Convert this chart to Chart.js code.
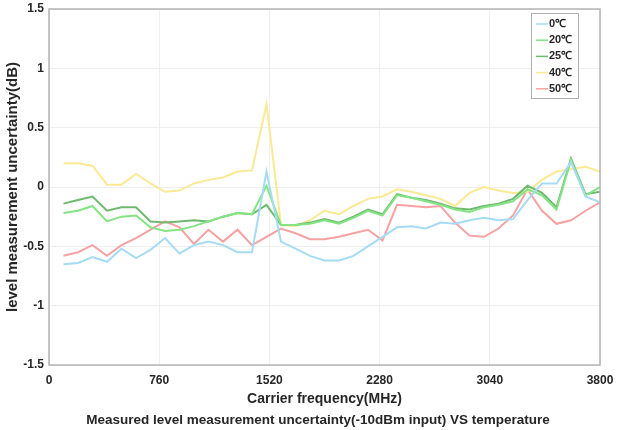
<!DOCTYPE html>
<html>
<head>
<meta charset="UTF-8">
<title>Level measurement uncertainty VS temperature</title>
<script src="https://cdn.jsdelivr.net/npm/chart.js@4.4.0/dist/chart.umd.min.js"></script>
<style>
  body { margin: 0; background: #fff; }
</style>
</head>
<body>
<canvas id="chart1" width="617" height="430"></canvas>
<script>
// carrier frequency points (MHz)
var freqs = [100, 200, 300, 400, 500, 600, 700, 800, 900, 1000,
             1100, 1200, 1300, 1400, 1500, 1600, 1700, 1800, 1900, 2000,
             2100, 2200, 2300, 2400, 2500, 2600, 2700, 2800, 2900, 3000,
             3100, 3200, 3300, 3400, 3500, 3600, 3700, 3800];

// uncertainty (dB) per temperature
var t0  = [-0.65, -0.64, -0.59, -0.63, -0.52, -0.60, -0.53, -0.43, -0.56, -0.49,
           -0.46, -0.49, -0.55, -0.55, 0.13, -0.46, -0.52, -0.58, -0.62, -0.62,
           -0.58, -0.50, -0.42, -0.34, -0.33, -0.35, -0.30, -0.31, -0.28, -0.26,
           -0.28, -0.27, -0.11, 0.03, 0.03, 0.21, -0.08, -0.13];
var t20 = [-0.22, -0.20, -0.16, -0.29, -0.25, -0.24, -0.34, -0.37, -0.36, -0.33,
           -0.29, -0.25, -0.22, -0.23, 0.01, -0.32, -0.32, -0.31, -0.28, -0.31,
           -0.26, -0.20, -0.24, -0.07, -0.09, -0.12, -0.15, -0.19, -0.21, -0.17,
           -0.15, -0.12, -0.02, -0.07, -0.19, 0.23, -0.07, 0.00];
var t25 = [-0.14, -0.11, -0.08, -0.20, -0.17, -0.17, -0.29, -0.30, -0.29, -0.28,
           -0.29, -0.25, -0.22, -0.23, -0.15, -0.32, -0.32, -0.30, -0.27, -0.30,
           -0.25, -0.19, -0.23, -0.06, -0.09, -0.11, -0.14, -0.18, -0.19, -0.16,
           -0.14, -0.10, 0.01, -0.05, -0.17, 0.24, -0.06, -0.04];
var t40 = [0.20, 0.20, 0.18, 0.02, 0.02, 0.11, 0.03, -0.04, -0.03, 0.03,
           0.06, 0.08, 0.13, 0.14, 0.70, -0.32, -0.33, -0.28, -0.20, -0.23,
           -0.16, -0.10, -0.08, -0.02, -0.04, -0.07, -0.10, -0.16, -0.05, 0.00,
           -0.03, -0.05, -0.04, 0.06, 0.13, 0.15, 0.17, 0.13];
var t50 = [-0.58, -0.55, -0.49, -0.58, -0.49, -0.43, -0.36, -0.29, -0.34, -0.48,
           -0.36, -0.46, -0.36, -0.49, -0.42, -0.35, -0.39, -0.44, -0.44, -0.42,
           -0.39, -0.36, -0.45, -0.15, -0.16, -0.17, -0.16, -0.30, -0.41, -0.42,
           -0.35, -0.24, -0.02, -0.20, -0.31, -0.28, -0.20, -0.13];

var seriesNames = ["0℃", "20℃", "25℃", "40℃", "50℃"];
var xTicks = [0, 760, 1520, 2280, 3040, 3800];

function pairs(vals) {
    return vals.map(function (v, i) { return { x: freqs[i], y: v }; });
}

var colors = ["#a6dbf5", "#84e484", "#6fb96f", "#fbe993", "#f6a2a2"];
var allSeries = [t0, t20, t25, t40, t50];

var datasets = allSeries.map(function (s, i) {
    return {
        label: seriesNames[i],
        data: pairs(s),
        borderColor: colors[i],
        borderWidth: 2,
        pointRadius: 0,
        fill: false,
        tension: 0
    };
});

var txt = "#262626";
var fam = "'Liberation Sans', Arial, sans-serif";
function bold(size) { return { family: fam, size: size, weight: "bold" }; }

// box around the axes, matlab style
var framePlugin = {
    id: "frame",
    afterLayout: function (chart) {
        // the figure title sits a little right of the canvas centre
        if (chart.titleBlock) chart.titleBlock.left = 36;
    },
    afterDatasetsDraw: function (chart) {
        var a = chart.chartArea, c = chart.ctx;
        c.save();
        c.strokeStyle = "#b4b4b4";
        c.lineWidth = 1.5;
        c.strokeRect(a.left, a.top, a.right - a.left, a.bottom - a.top);
        c.restore();
    }
};

// legend box in the top right corner
var boxLegend = {
    id: "boxLegend",
    afterDraw: function (chart) {
        var c = chart.ctx;
        var x = 531, y = 13, w = 47, h = 85;
        c.save();
        c.fillStyle = "#fff";
        c.fillRect(x, y, w, h);
        c.strokeStyle = "#b0b0b0";
        c.lineWidth = 1;
        c.strokeRect(x + 0.5, y + 0.5, w, h);
        c.font = "bold 11px " + fam;
        c.textBaseline = "middle";
        chart.data.datasets.forEach(function (ds, i) {
            var cy = y + 11 + i * 16.2;
            c.strokeStyle = ds.borderColor;
            c.lineWidth = 1.5;
            c.beginPath();
            c.moveTo(x + 5, cy);
            c.lineTo(x + 17, cy);
            c.stroke();
            c.fillStyle = txt;
            c.fillText(ds.label, x + 18, cy);
        });
        c.restore();
    }
};

var chart1 = new Chart(document.getElementById("chart1"), {
    type: "line",
    data: { datasets: datasets },
    plugins: [framePlugin, boxLegend],
    options: {
        responsive: false,
        animation: false,
        devicePixelRatio: 1,
        layout: { padding: { top: 9, right: 17, left: 0, bottom: 0 } },
        plugins: {
            legend: { display: false },
            tooltip: { enabled: false },
            title: {
                display: true,
                position: "bottom",
                text: "Measured level measurement uncertainty(-10dBm input) VS temperature",
                color: txt,
                font: bold(13.5),
                padding: { top: 2, bottom: 2 }
            }
        },
        scales: {
            x: {
                type: "linear",
                min: 0,
                max: 3800,
                afterBuildTicks: function (scale) {
                    scale.ticks = xTicks.map(function (v) { return { value: v }; });
                },
                afterFit: function (scale) {
                    scale.height = 44.8;
                    scale.paddingLeft = 0;
                    scale.paddingRight = 0;
                },
                ticks: {
                    color: txt,
                    font: bold(12),
                    padding: 8,
                    maxRotation: 0,
                    callback: function (v) { return String(v); }
                },
                grid: { color: "#efefef", drawTicks: false },
                border: { display: false },
                title: {
                    display: true,
                    text: "Carrier frequency(MHz)",
                    color: txt,
                    font: bold(14),
                    padding: { top: 0, bottom: 2.4 }
                }
            },
            y: {
                min: -1.5,
                max: 1.5,
                afterFit: function (scale) {
                    scale.width = 49;
                    scale.paddingTop = 0;
                    scale.paddingBottom = 0;
                },
                ticks: {
                    stepSize: 0.5,
                    color: txt,
                    font: bold(12),
                    padding: 5,
                    callback: function (v) { return String(Math.round(v * 10) / 10); }
                },
                grid: { color: "#efefef", drawTicks: false },
                border: { display: false },
                title: {
                    display: true,
                    text: "level measurement uncertainty(dB)",
                    color: txt,
                    font: bold(15),
                    padding: { top: 3.5, bottom: 0 }
                }
            }
        }
    }
});
</script>
</body>
</html>
